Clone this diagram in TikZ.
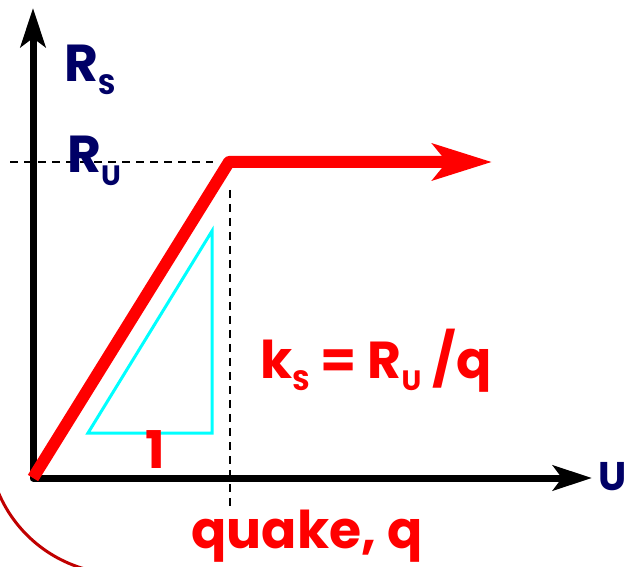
\documentclass[tikz,border=0pt]{standalone}
\usepackage{fontspec}
\setmainfont{Poppins}
\usetikzlibrary{arrows.meta}
\definecolor{navy}{HTML}{000066}
\definecolor{darkred}{HTML}{C00000}
\definecolor{aqua}{HTML}{00FFFF}
\definecolor{pured}{HTML}{FF0000}
\tikzset{
  axis/.style={line width=7pt, line join=round, {Stealth[length=39pt,width=25pt,inset=9pt]}-{Stealth[length=39pt,width=25pt,inset=9pt]}},
  curve/.style={pured, line width=12pt, line join=round, -{Stealth[length=59pt,width=36pt,inset=14pt]}},
  guide/.style={black, line width=1.6pt, dash pattern=on 8pt off 6pt},
  tri/.style={aqua, line width=3pt},
  lbl/.style={inner sep=0pt, font=\bfseries},
}
\newcommand{\bigsz}{\fontsize{52}{52}\selectfont}
\newcommand{\subsz}{\fontsize{28}{28}\selectfont}
\newcommand{\sbs}[1]{\raisebox{-13pt}{\subsz #1}}
\begin{document}
\begin{tikzpicture}[x=1pt,y=-1pt]
\useasboundingbox (0,0) rectangle (625,567);
\clip (0,0) rectangle (625,567);
\coordinate (Ytop) at (33,8);
\coordinate (O) at (33,478);
\coordinate (Xend) at (592,478);
\coordinate (K) at (229,162);
\coordinate (Rend) at (492,162);
\coordinate (HL) at (10,162);
\coordinate (HR) at (213,162);
\coordinate (VT) at (230,190);
\coordinate (VB) at (230,507);
\coordinate (T1) at (88,433);
\coordinate (T2) at (212,433);
\coordinate (T3) at (212,231);
\coordinate (AC) at (121,441);
% arc
\draw[darkred, line width=3pt] (AC) ++(160:133) arc[start angle=160, end angle=95, radius=133];
% guides
\draw[guide] (HL) -- (HR);
\draw[guide] (VT) -- (VB);
% triangle
\draw[tri] (T1) -- (T2) -- (T3) -- cycle;
% axes
\draw[axis] (Ytop) -- (O) -- (Xend);
% curve
\draw[curve] (O) -- (K) -- (Rend);
% labels
\node[lbl, navy, anchor=base west] (RS) at (64,82) {\bigsz R\sbs{S}};
\node[lbl, navy, anchor=base west] (RU) at (67,173) {\bigsz R\sbs{U}};
\node[lbl, navy, anchor=base west] (U) at (598,490) {\fontsize{40}{40}\selectfont U};
\node[lbl, pured, anchor=base west] (ks) at (260,378) {\bigsz k\sbs{S} = R\sbs{U} /q};
\node[lbl, pured, anchor=base] (one) at (155,468) {\bigsz 1};
\node[lbl, pured, anchor=base] (quake) at (307,548) {\bigsz quake, q};
\end{tikzpicture}
\end{document}
